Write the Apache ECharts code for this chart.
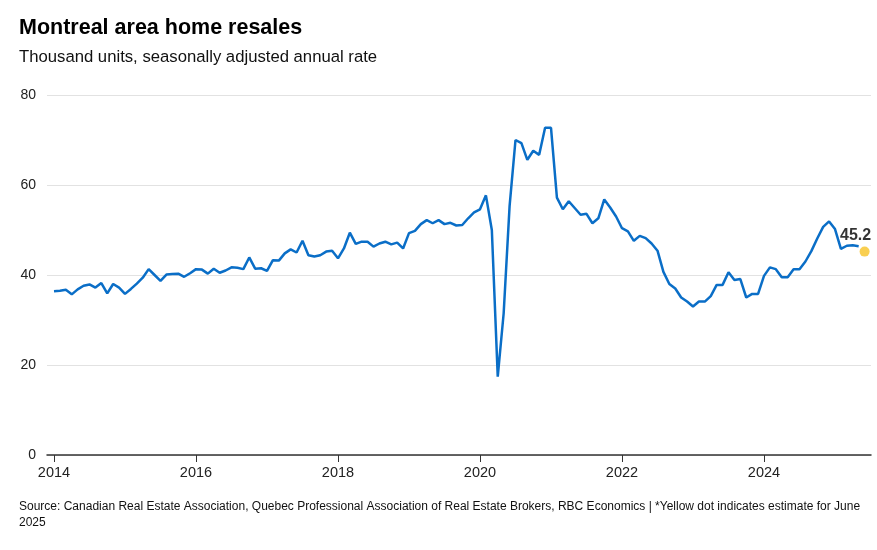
<!DOCTYPE html>
<html>
<head>
<meta charset="utf-8">
<script src="https://cdn.jsdelivr.net/npm/echarts@6/dist/echarts.min.js"></script>
<style>
html,body{margin:0;padding:0;background:#fff;}
#chart{width:877px;height:550px;}
</style>
</head>
<body>
<div id="chart"></div>
<script>
// Monthly data, Jan 2014 - May 2025 (thousand units, SAAR)
const startYear = 2014;
const resales2014 = [36.4, 36.5, 36.7, 35.7, 36.8, 37.6, 37.9, 37.2, 38.2, 35.9, 38.0, 37.2];
const resales2015 = [35.8, 36.9, 38.1, 39.4, 41.3, 40.0, 38.7, 40.1, 40.2, 40.3, 39.6, 40.4];
const resales2016 = [41.3, 41.2, 40.3, 41.4, 40.5, 41.0, 41.7, 41.6, 41.3, 43.9, 41.4, 41.5];
const resales2017 = [40.9, 43.3, 43.2, 44.8, 45.7, 45.0, 47.6, 44.4, 44.1, 44.4, 45.2, 45.4];
const resales2018 = [43.7, 45.9, 49.4, 46.9, 47.4, 47.4, 46.3, 47.0, 47.4, 46.8, 47.2, 45.9];
const resales2019 = [49.3, 49.8, 51.3, 52.2, 51.5, 52.2, 51.3, 51.6, 51.0, 51.1, 52.6, 53.9];
const resales2020 = [54.6, 57.7, 50.0, 17.4, 31.5, 55.3, 70.0, 69.3, 65.6, 67.6, 66.7, 72.7];
const resales2021 = [72.7, 57.2, 54.6, 56.4, 54.9, 53.4, 53.6, 51.5, 52.6, 56.8, 55.0, 53.0];
const resales2022 = [50.4, 49.7, 47.6, 48.7, 48.2, 47.0, 45.4, 40.7, 38.0, 37.0, 35.0, 34.1];
const resales2023 = [33.0, 34.1, 34.1, 35.3, 37.8, 37.8, 40.6, 38.9, 39.1, 35.0, 35.8, 35.8];
const resales2024 = [39.8, 41.7, 41.3, 39.5, 39.5, 41.3, 41.3, 43.0, 45.3, 48.1, 50.7, 51.9];
const resales2025 = [50.2, 45.8, 46.5, 46.6, 46.4];
const estimateJune2025 = 45.2;
const estimateMonthIndex = 5; // June (0-based)
const yearTicks = [2014, 2016, 2018, 2020, 2022, 2024];
const yTicks = [0, 20, 40, 60, 80];

const monthly = [].concat(resales2014, resales2015, resales2016, resales2017, resales2018,
  resales2019, resales2020, resales2021, resales2022, resales2023, resales2024, resales2025);
const lineData = monthly.map((v, i) => [startYear + i / 12, v]);
const estData = [[2025 + estimateMonthIndex / 12, estimateJune2025]];

const FONT = '"Liberation Sans", Arial, sans-serif';
const chart = echarts.init(document.getElementById('chart'), null, {renderer: 'canvas'});
chart.setOption({
  animation: false,
  backgroundColor: '#ffffff',
  title: [
    {text: 'Montreal area home resales', left: 19, top: 17, padding: 0,
     textStyle: {fontFamily: FONT, fontSize: 21.5, fontWeight: 'bold', color: '#000'}},
    {text: 'Thousand units, seasonally adjusted annual rate', left: 19, top: 49, padding: 0,
     textStyle: {fontFamily: FONT, fontSize: 16.7, fontWeight: 'normal', color: '#111'}}
  ],
  graphic: [{
    type: 'text', left: 19, top: 499,
    style: {
      text: 'Source: Canadian Real Estate Association, Quebec Professional Association of Real Estate Brokers, RBC Economics | *Yellow dot indicates estimate for June\n2025',
      font: '12px ' + FONT, fill: '#111', lineHeight: 16
    }
  }],
  grid: {left: 47, right: 6, top: 95, bottom: 95, containLabel: false},
  xAxis: {
    type: 'value',
    min: 2013.9014, max: 2025.507,
    axisLine: {show: true, lineStyle: {color: '#333', width: 1.5}},
    axisTick: {show: true, customValues: yearTicks, length: 7, lineStyle: {color: '#333', width: 1}},
    axisLabel: {show: true, customValues: yearTicks, margin: 10, color: '#222', fontSize: 14.5, fontFamily: FONT,
      formatter: v => String(Math.round(v))},
    splitLine: {show: false}
  },
  yAxis: {
    type: 'value', min: 0, max: 80, interval: 20,
    axisLine: {show: false}, axisTick: {show: false},
    axisLabel: {color: '#222', fontSize: 14, fontFamily: FONT, margin: 11},
    splitLine: {show: true, lineStyle: {color: '#e2e2e2', width: 1}}
  },
  series: [
    {type: 'line', data: lineData, showSymbol: false, symbol: 'none',
     lineStyle: {color: '#0a6ec7', width: 2.5}, z: 3},
    {type: 'scatter', data: estData, symbolSize: 10,
     itemStyle: {color: '#f7c325'},
     label: {show: true, position: 'top', distance: 3, offset: [-9, 0],
       formatter: p => p.value[1].toFixed(1),
       fontFamily: FONT, fontSize: 16, fontWeight: 'bold', color: '#000',
       textBorderColor: '#fff', textBorderWidth: 2}, z: 4}
  ]
});
</script>
</body>
</html>
